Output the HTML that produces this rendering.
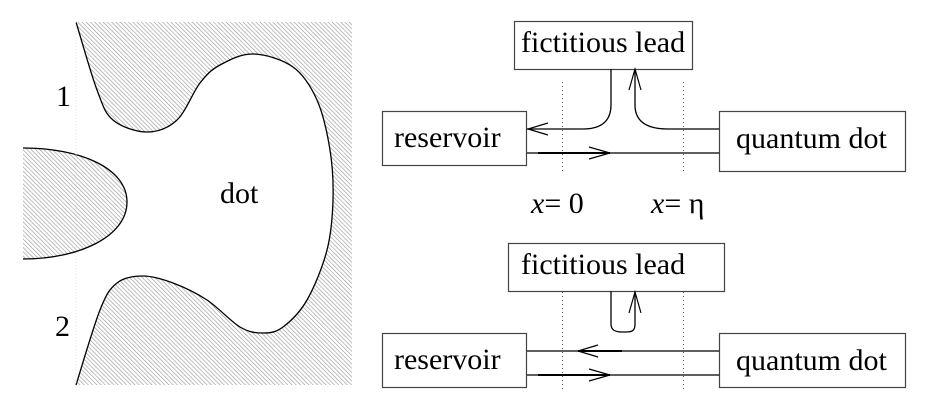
<!DOCTYPE html>
<html>
<head>
<meta charset="utf-8">
<style>
html,body{margin:0;padding:0;background:#fff;}
svg{display:block;}
svg text{font-family:"Liberation Serif","Times New Roman","Times","DejaVu Serif","Noto Serif CJK SC",serif;fill:#000;}
</style>
</head>
<body>
<svg width="926" height="402" viewBox="0 0 926 402" xmlns="http://www.w3.org/2000/svg">
<defs>
<pattern id="hatch" patternUnits="userSpaceOnUse" width="3" height="3" patternTransform="rotate(-45)">
<rect width="3" height="3" fill="#fff"/>
<line x1="0" y1="0" x2="0" y2="3" stroke="#959595" stroke-width="1.2"/>
</pattern>
</defs>

<g>
<path id="gatePath" fill="url(#hatch)" stroke="none" d=""/>
<path id="dotEdge" fill="none" stroke="#000" stroke-width="1.3" d=""/>
<path fill="url(#hatch)" stroke="#000" stroke-width="1.3"
 d="M23,148 C80,148 127,168 127,202 C127,236 80,259 23,259"/>
<line x1="76" y1="22" x2="76" y2="385" stroke="#ddd" stroke-width="0.8" stroke-dasharray="1,2"/>
<text x="56" y="106" font-size="30">1</text>
<text x="55" y="336" font-size="30">2</text>
<text x="220" y="203" font-size="30">dot</text>
</g>

<g stroke="#000" fill="none">
<rect x="514.5" y="21.5" width="178" height="48" stroke="#444" stroke-width="1.2" fill="#fff"/>
<rect x="382.5" y="111.5" width="144" height="54" stroke="#444" stroke-width="1.2" fill="#fff"/>
<rect x="719.5" y="111.5" width="186" height="60" stroke="#444" stroke-width="1.2" fill="#fff"/>
<line x1="562.5" y1="82" x2="562.5" y2="173" stroke="#555" stroke-width="1" stroke-dasharray="1,3"/>
<line x1="683.5" y1="82" x2="683.5" y2="173" stroke="#555" stroke-width="1" stroke-dasharray="1,3"/>
<path stroke-width="1.3" d="M611,69 L611,105 C611,122 600,129 583,129 L527,129"/>
<path stroke-width="1.2" d="M548,123 L528,129 L548,135"/>
<path stroke-width="1.3" d="M719,129 L668,129 C645,129 635,120 635,105 L635,70"/>
<path stroke-width="1.2" d="M629,90 L635,69 L641,90"/>
<line x1="527" y1="153" x2="719" y2="153" stroke-width="1.3"/>
<line x1="538" y1="153" x2="610" y2="153" stroke-width="2"/>
<path stroke-width="1.2" d="M589,147 L610,153 L589,159"/>
</g>
<text x="521" y="52" font-size="30">fictitious lead</text>
<text x="394" y="147" font-size="30">reservoir</text>
<text x="736" y="148" font-size="30">quantum dot</text>
<text x="531" y="213" font-size="30"><tspan font-style="italic">x</tspan>= 0</text>
<text x="651" y="213" font-size="30"><tspan font-style="italic">x</tspan>= η</text>

<g stroke="#000" fill="none">
<rect x="508.5" y="243.5" width="216" height="48" stroke="#444" stroke-width="1.2" fill="#fff"/>
<rect x="382.5" y="333.5" width="144" height="54" stroke="#444" stroke-width="1.2" fill="#fff"/>
<rect x="719.5" y="333.5" width="186" height="54" stroke="#444" stroke-width="1.2" fill="#fff"/>
<line x1="562.5" y1="292" x2="562.5" y2="390" stroke="#555" stroke-width="1" stroke-dasharray="1,3"/>
<line x1="683.5" y1="292" x2="683.5" y2="390" stroke="#555" stroke-width="1" stroke-dasharray="1,3"/>
<path stroke-width="1.3" d="M611,291 L611,324 C611,330 615,332 622,332 L626,332 C633,332 635,330 635,324 L635,292"/>
<path stroke-width="1.2" d="M629,313 L635,292 L641,313"/>
<line x1="527" y1="351" x2="719" y2="351" stroke-width="1.3"/>
<line x1="578" y1="351" x2="622" y2="351" stroke-width="2"/>
<path stroke-width="1.2" d="M598,345 L578,351 L598,357"/>
<line x1="527" y1="375" x2="719" y2="375" stroke-width="1.3"/>
<line x1="538" y1="375" x2="610" y2="375" stroke-width="2"/>
<path stroke-width="1.2" d="M589,369 L610,375 L589,381"/>
</g>
<text x="521" y="274" font-size="30">fictitious lead</text>
<text x="394" y="369" font-size="30">reservoir</text>
<text x="736" y="370" font-size="30">quantum dot</text>
</svg>
<script>
var boundaryPts = [[76,22],[97,90],[113,120],[147,132],[177,120],[200,83],[220,65],[253,54],[293,67],[317,100],[330,150],[333,200],[327,250],[307,300],[283,327],[263,333],[240,327],[207,300],[173,283],[143,276],[117,283],[100,310],[76,385]];
function smooth(p){
  var d="M"+p[0][0]+","+p[0][1];
  for(var i=0;i<p.length-1;i++){
    var p0=p[i-1]||p[i],p1=p[i],p2=p[i+1],p3=p[i+2]||p2;
    var c1x=p1[0]+(p2[0]-p0[0])/6,c1y=p1[1]+(p2[1]-p0[1])/6;
    var c2x=p2[0]-(p3[0]-p1[0])/6,c2y=p2[1]-(p3[1]-p1[1])/6;
    d+=" C"+c1x.toFixed(1)+","+c1y.toFixed(1)+" "+c2x.toFixed(1)+","+c2y.toFixed(1)+" "+p2[0]+","+p2[1];
  }
  return d;
}
var edge=smooth(boundaryPts);
document.getElementById('dotEdge').setAttribute('d',edge);
document.getElementById('gatePath').setAttribute('d',edge+" L76,385 L352,385 L352,22 Z");
</script>
</body>
</html>
